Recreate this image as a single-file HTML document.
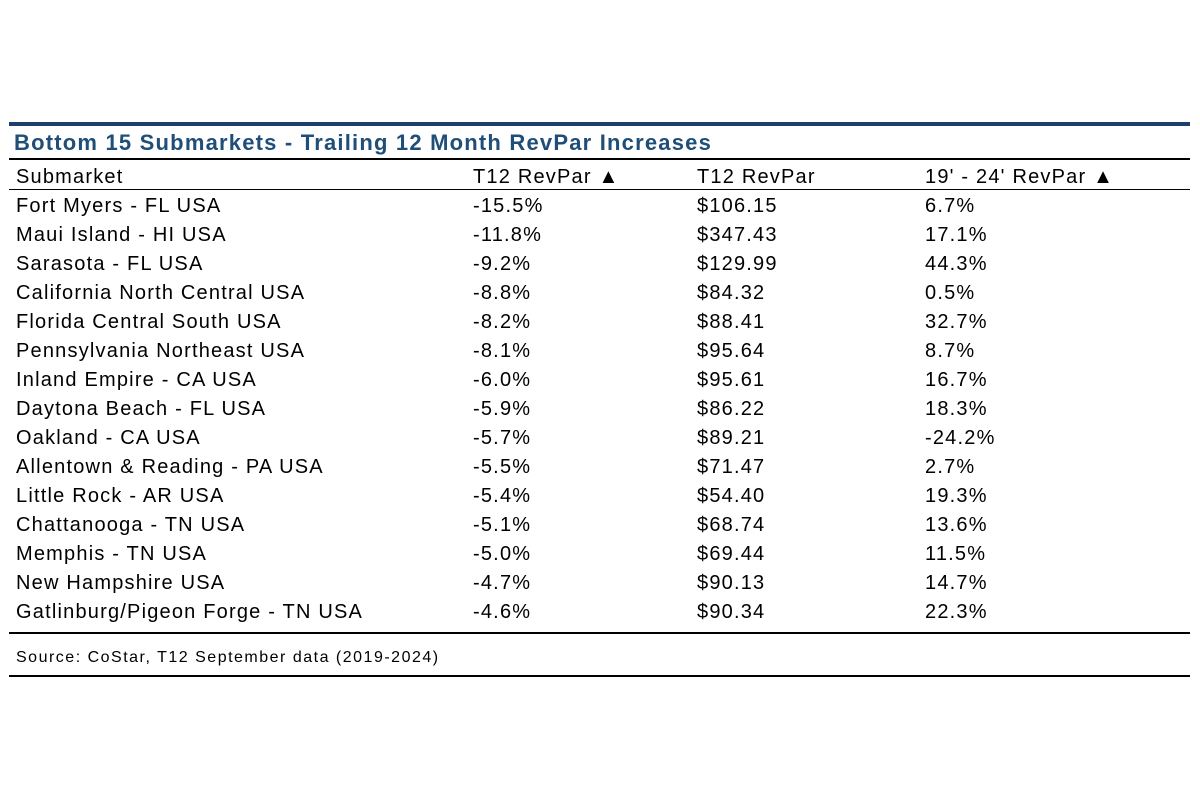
<!DOCTYPE html>
<html><head><meta charset="utf-8"><style>
body{margin:0;width:1200px;height:800px;background:#fff;position:relative;font-family:"Liberation Sans",sans-serif;color:#000;overflow:hidden}
.l{position:absolute;left:9px;width:1181px;background:#000}
.t{position:absolute;white-space:nowrap;font-size:20px;line-height:20px;letter-spacing:1.2px}
</style></head><body>
<div class="l" style="top:122px;height:4px;background:#1f3f6b"></div>
<div class="t" style="left:14px;top:130px;font-size:22px;line-height:26px;letter-spacing:1.2px;font-weight:bold;color:#1f4e79">Bottom 15 Submarkets - Trailing 12 Month RevPar Increases</div>
<div class="l" style="top:158px;height:2px"></div>
<div class="t" style="left:16px;top:167px">Submarket</div>
<div class="t" style="left:473px;top:167px">T12 RevPar ▲</div>
<div class="t" style="left:697px;top:167px">T12 RevPar</div>
<div class="t" style="left:925px;top:167px">19' - 24' RevPar ▲</div>
<div class="l" style="top:189px;height:1px"></div>
<div id="rows"></div>
<div class="l" style="top:632px;height:2px"></div>
<div class="t" style="left:16px;top:648px;font-size:16px;letter-spacing:1.5px">Source: CoStar, T12 September data (2019-2024)</div>
<div class="l" style="top:675px;height:2px"></div>
<script>
const names=["Fort Myers - FL USA","Maui Island - HI USA","Sarasota - FL USA","California North Central USA","Florida Central South USA","Pennsylvania Northeast USA","Inland Empire - CA USA","Daytona Beach - FL USA","Oakland - CA USA","Allentown & Reading - PA USA","Little Rock - AR USA","Chattanooga - TN USA","Memphis - TN USA","New Hampshire USA","Gatlinburg/Pigeon Forge - TN USA"];
const t12Change=["-15.5%","-11.8%","-9.2%","-8.8%","-8.2%","-8.1%","-6.0%","-5.9%","-5.7%","-5.5%","-5.4%","-5.1%","-5.0%","-4.7%","-4.6%"];
const t12RevPar=["$106.15","$347.43","$129.99","$84.32","$88.41","$95.64","$95.61","$86.22","$89.21","$71.47","$54.40","$68.74","$69.44","$90.13","$90.34"];
const change1924=["6.7%","17.1%","44.3%","0.5%","32.7%","8.7%","16.7%","18.3%","-24.2%","2.7%","19.3%","13.6%","11.5%","14.7%","22.3%"];
const c=document.getElementById('rows');
const xs=[16,473,697,925];
names.forEach((n,i)=>{
  const vals=[n,t12Change[i],t12RevPar[i],change1924[i]];
  const cols=['submarket','t12-change','t12-revpar','change-19-24'];
  vals.forEach((v,j)=>{
    const d=document.createElement('div');
    d.className='t';
    d.style.left=xs[j]+'px';
    d.style.top=(196+i*29)+'px';
    d.textContent=v;
    
    
    c.appendChild(d);
  });
});
</script>
</body></html>
